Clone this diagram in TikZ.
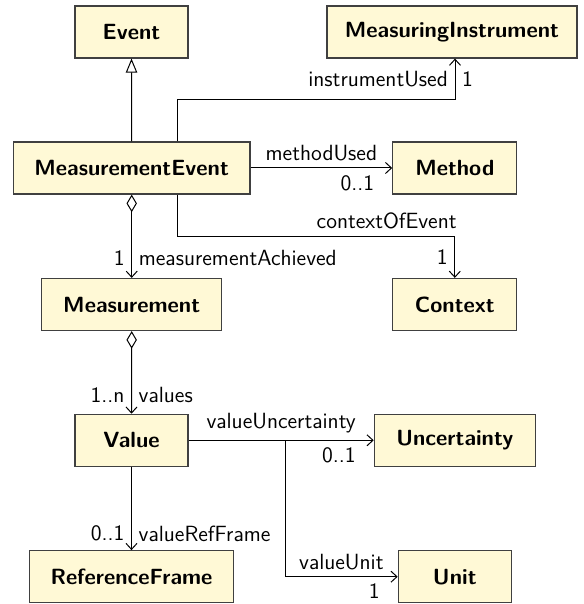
\documentclass[tikz,border=0pt]{standalone}
\usepackage{xcolor}
\usepackage{tikz}
\usetikzlibrary{arrows.meta}
\definecolor{classfill}{RGB}{255,249,214}
\renewcommand{\familydefault}{\sfdefault}
\def\txtsize{\fontsize{11}{13}\selectfont}
\tikzset{
	cls/.style={draw=black!75,line width=0.6pt,fill=classfill,font=\txtsize\bfseries,minimum height=26pt,inner sep=0pt},
	assoc/.style={line width=0.5pt,-{Straight Barb[length=3pt,width=5.5pt]}},
	aggr/.style={line width=0.5pt,{Diamond[open,length=8.8pt,width=5.2pt]}-{Straight Barb[length=3pt,width=5.5pt]}},
	gen/.style={line width=0.5pt,-{Triangle[open,length=7pt,width=5.7pt]}},
	}

\begin{document}
\begin{tikzpicture}[x=0.5pt,y=0.5pt,font=\txtsize]
					\useasboundingbox (0,0) rectangle (583,604);
					\node[cls,minimum width=56.5pt] (ev) at (131.5,572) {Event};
					\node[cls,minimum width=125pt] (mi) at (452,572) {MeasuringInstrument};
					\node[cls,minimum width=118.3pt] (me) at (131.7,436) {MeasurementEvent};
					\node[cls,minimum width=62pt] (mt) at (454.8,436) {Method};
					\node[cls,minimum width=90pt] (mm) at (131.7,299.5) {Measurement};
					\node[cls,minimum width=62pt] (cx) at (454.8,299.5) {Context};
					\node[cls,minimum width=56.5pt] (vl) at (131.5,163.7) {Value};
					\node[cls,minimum width=80.5pt] (uc) at (454.8,163.7) {Uncertainty};
					\node[cls,minimum width=102.2pt] (rf) at (131.5,27.3) {ReferenceFrame};
					\node[cls,minimum width=56.5pt] (ut) at (454.8,27.3) {Unit};
					\draw[gen] (me.north) -- (ev.south);
					\draw[assoc] ([xshift=23pt]me.north) -- ++(0,42) -| ([xshift=1.5pt]mi.south)
						node[pos=0.75,left] {instrumentUsed} node[pos=0.75,right] {1};
					\draw[assoc] (me.east) -- (mt.west)
						node[midway,above] {methodUsed} node[pos=1,below left,xshift=-5.5pt] {0..1};
					\draw[aggr] (me.south) -- (mm.north)
						node[pos=0.76,right] {measurementAchieved} node[pos=0.76,left] {1};
					\draw[assoc] ([xshift=23pt]me.south) -- ++(0,-42) -| (cx.north)
						node[pos=0.5,above left,xshift=4.5pt] {contextOfEvent} node[pos=0.75,left] {1};
					\draw[aggr] (mm.south) -- (vl.north)
						node[pos=0.77,right] {values} node[pos=0.77,left] {1..n};
					\draw[assoc] (vl.east) -- (uc.west)
						node[midway,above] {valueUncertainty} node[pos=1,below left,xshift=-5.5pt] {0..1};
					\coordinate (br) at ([xshift=48.2pt]vl.east);
					\draw[assoc] (br) |- (ut.west)
						node[pos=0.75,above] {valueUnit} node[pos=1,below left,xshift=-5.5pt] {1};
					\draw[assoc] (vl.south) -- (rf.north)
						node[pos=0.8,right] {valueRefFrame} node[pos=0.8,left] {0..1};
				\end{tikzpicture}
\end{document}
